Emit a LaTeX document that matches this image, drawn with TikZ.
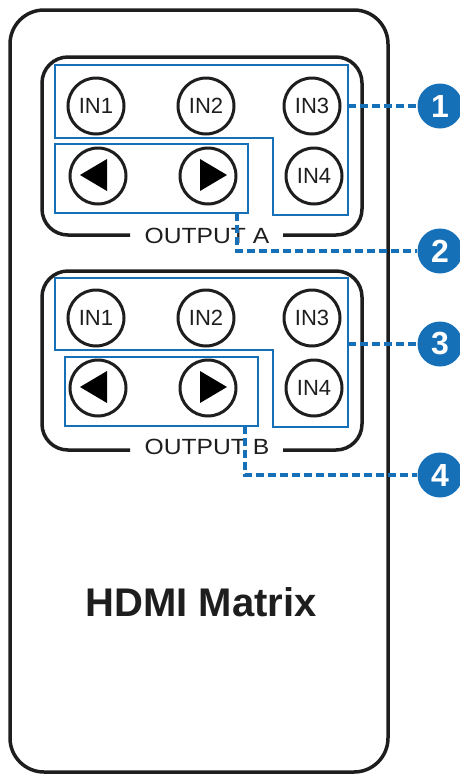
\documentclass[tikz,border=0pt]{standalone}
\usepackage{fontspec}
\setmainfont{Liberation Sans}
\definecolor{bblue}{RGB}{22,112,184}
\definecolor{ink}{RGB}{30,30,30}
\tikzset{
  body/.style={draw=ink, line width=3.5pt, rounded corners=34pt},
  panel/.style={draw=ink, line width=3.5pt, rounded corners=26pt},
  btn/.style={circle, draw=ink, line width=3pt, minimum size=56pt, inner sep=0pt,
    font=\fontsize{22}{22}\selectfont, text=ink},
  tri/.style={fill=black},
  blueline/.style={draw=bblue, line width=2pt},
  dashline/.style={draw=bblue, line width=3.8pt, dash pattern=on 8pt off 4pt},
  badge/.style={circle, fill=bblue, minimum size=45pt, inner sep=0pt, text=white,
    font=\fontsize{32}{32}\selectfont\bfseries},
  outlabel/.style={fill=white, inner xsep=3pt, inner ysep=1pt, text=ink,
    font=\fontsize{22}{22}\selectfont}
}
\begin{document}
\begin{tikzpicture}[x=1pt,y=-1pt]
\useasboundingbox (0,0) rectangle (459,774);
% body
\draw[body] (10,10) rectangle (388,772);
% ===== Panel A =====
\draw[panel] (130,235) -- (42,235) -- (42,57) -- (362,57) -- (362,235) -- (283,235);
\node[outlabel] (outA) at (207,236) {\scalebox{1.12}[1]{OUTPUT A}};
% blue outlines A
\draw[blueline] (55,65) -- (348,65) -- (348,215) -- (273,215) -- (273,138) -- (55,138) -- cycle;
\draw[blueline] (55,144) rectangle (248,213);
% buttons A
\node[btn] (a1) at (96,106) {IN1};
\node[btn] (a2) at (206,106) {IN2};
\node[btn] (a3) at (312,106) {IN3};
\node[btn] (a4) at (314,176) {IN4};
\node[btn] (al) at (98,176) {};
\node[btn] (ar) at (208,176) {};
\fill[tri] (80,175) -- (107,159) -- (107,191) -- cycle;
\fill[tri] (227,175) -- (200,159) -- (200,191) -- cycle;
% ===== Panel B =====
\draw[panel] (130,450) -- (42,450) -- (42,271) -- (362,271) -- (362,450) -- (283,450);
\node[outlabel] (outB) at (207,447) {\scalebox{1.12}[1]{OUTPUT B}};
\draw[blueline] (55,278) -- (348,278) -- (348,427) -- (273,427) -- (273,350) -- (55,350) -- cycle;
\draw[blueline] (65,357) rectangle (258,426);
\node[btn] (b1) at (96,318) {IN1};
\node[btn] (b2) at (206,318) {IN2};
\node[btn] (b3) at (312,318) {IN3};
\node[btn] (b4) at (314,388) {IN4};
\node[btn] (bl) at (98,388) {};
\node[btn] (br) at (208,388) {};
\fill[tri] (80,387) -- (107,371) -- (107,403) -- cycle;
\fill[tri] (227,387) -- (200,371) -- (200,403) -- cycle;
% title
\node[text=ink, font=\fontsize{40}{40}\selectfont\bfseries] (title) at (201,602) {HDMI Matrix};
% badges
\node[badge] (n1) at (440,106) {1};
\node[badge] (n2) at (440,251) {2};
\node[badge] (n3) at (440,344) {3};
\node[badge] (n4) at (440,475) {4};
% connectors
\coordinate (c1) at (348,106);
\coordinate (c2) at (237,213);
\coordinate (c3) at (348,344);
\coordinate (c4) at (245,426);
\draw[dashline] (c1) -- (n1.west);
\draw[dashline] (c2) |- (n2.west);
\draw[dashline] (c3) -- (n3.west);
\draw[dashline] (c4) |- (n4.west);
\end{tikzpicture}
\end{document}
